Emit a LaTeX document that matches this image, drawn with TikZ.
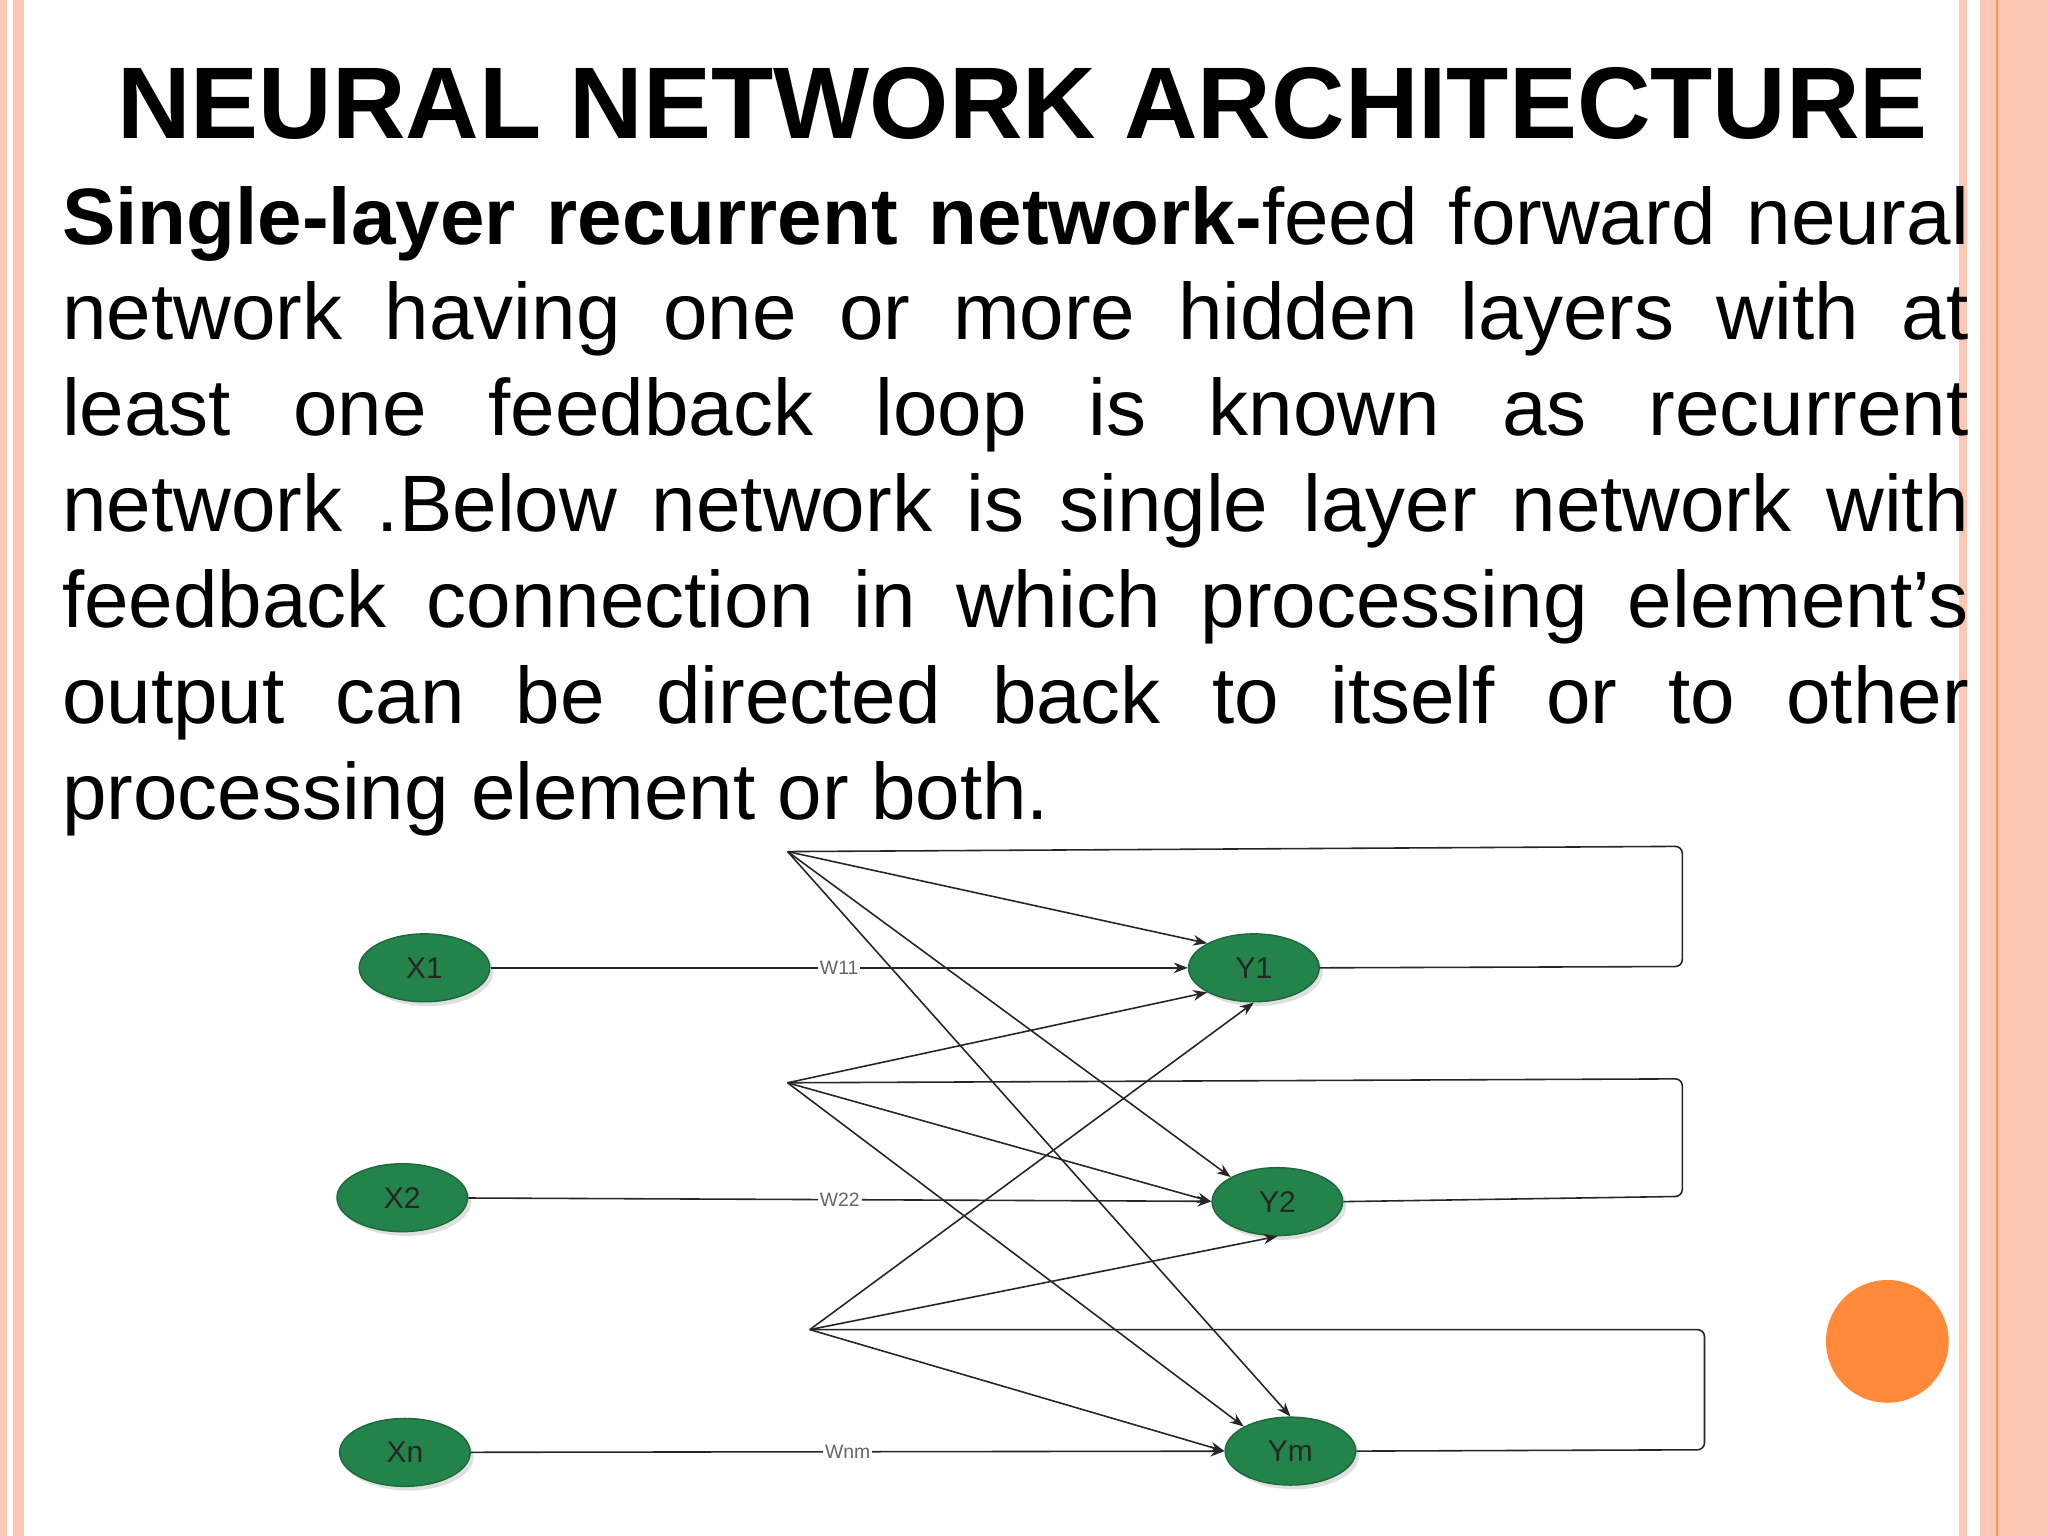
\documentclass[tikz,border=0pt]{standalone}
\usepackage{fontspec}
\setmainfont{Liberation Sans}
\usetikzlibrary{arrows.meta,shapes.geometric,shadows}
\definecolor{salmon}{HTML}{FCC8B4}
\definecolor{orng}{HTML}{FF8A3A}
\definecolor{gfill}{HTML}{23834A}
\tikzset{
 neuron/.style={ellipse,draw=gfill!80!black,fill=gfill,minimum width=100*0.3706pt,minimum height=52*0.3706pt,inner sep=0pt,font=\fontsize{8.5}{9}\selectfont,text=black!85,drop shadow={shadow xshift=1pt,shadow yshift=-1.2pt,opacity=0.25}},
 conn/.style={draw=black!85,line width=0.45pt,-{Stealth[length=4pt,width=3pt]}},
 fb/.style={draw=black!85,line width=0.45pt,rounded corners=2pt},
 wlab/.style={fill=white,inner sep=0.5pt,font=\fontsize{5.5}{6}\selectfont,text=black!60}
}
\begin{document}
\begin{tikzpicture}[x=0.3706pt,y=-0.3706pt]
\useasboundingbox (0,0) rectangle (1568,1176);
% borders
\fill[salmon] (0,0) rectangle (5,1176);
\fill[salmon] (10,0) rectangle (18,1176);
\fill[salmon] (1500,0) rectangle (1506,1176);
\fill[salmon] (1516,0) rectangle (1568,1176);
\fill[orng!90] (1528,0) rectangle (1530,1176);
\fill[orng] (1445,1027) circle (47);
% title
\node[font=\bfseries\fontsize{28.9}{34}\selectfont,anchor=base] (title) at (783,106) {NEURAL NETWORK ARCHITECTURE};
\node[anchor=north west,inner sep=0pt,text width=1460*0.3706pt,align=justify,font=\fontsize{22.7}{27.2}\selectfont] (body) at (47,142)
{\hyphenpenalty=10000\exhyphenpenalty=10000\textbf{Single-layer recurrent network-}feed forward neural\linebreak
network having one or more hidden layers with at\linebreak
least one feedback loop is known as recurrent\linebreak
network .Below network is single layer network with\linebreak
feedback connection in which processing element’s\linebreak
output can be directed back to itself or to other\linebreak
processing element or both.};
% nodes
\node[neuron] (x1) at (325,741) {X1};
\node[neuron] (x2) at (308,917) {X2};
\node[neuron] (xn) at (310,1112) {Xn};
\node[neuron] (y1) at (960,741) {Y1};
\node[neuron] (y2) at (978,920) {Y2};
\node[neuron] (ym) at (988,1111) {Ym};
\coordinate (a) at (603,652);
\coordinate (b) at (603,829);
\coordinate (c) at (620,1018);
% inputs
\draw[conn] (x1) -- node[wlab,pos=0.5]{W11} (y1);
\draw[conn] (x2) -- node[wlab,pos=0.5]{W22} (y2);
\draw[conn] (xn) -- node[wlab,pos=0.5]{Wnm} (ym);
% feedback loops
\draw[fb] (y1.east) -- (1288,740) -- (1288,648) -- (a);
\draw[fb] (y2.east) -- (1288,916) -- (1288,826) -- (b);
\draw[fb] (ym.east) -- (1305,1110) -- (1305,1018) -- (c);
% fan lines
\draw[conn] (a) -- (y1.north west);
\draw[conn] (a) -- (y2.north west);
\draw[conn] (a) -- (ym.north);
\draw[conn] (b) -- (y1.south west);
\draw[conn] (b) -- (y2.west);
\draw[conn] (b) -- (ym.north west);
\draw[conn] (c) -- (y1.south);
\draw[conn] (c) -- (y2.south);
\draw[conn] (c) -- (ym.west);
\end{tikzpicture}
\end{document}
